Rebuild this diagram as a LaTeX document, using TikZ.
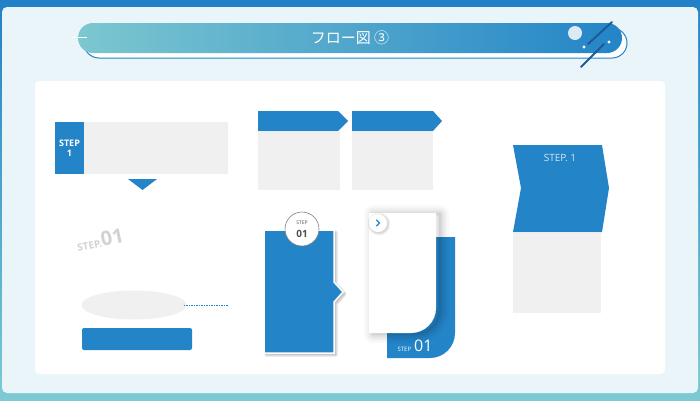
\documentclass[tikz,border=0pt]{standalone}
\usepackage{fontspec}
\setmainfont{Open Sans}
\newfontfamily\jpfont{Noto Sans CJK JP}
\usetikzlibrary{shapes.geometric}
\definecolor{stepblue}{HTML}{2384C7}
\definecolor{frametop}{HTML}{2281C6}
\definecolor{framebottom}{HTML}{7CCAD3}
\definecolor{panel}{HTML}{E9F5F8}
\definecolor{cardgray}{HTML}{F0F0F0}
\definecolor{bannerteal}{HTML}{7CC7D0}
\definecolor{decoline}{HTML}{1D5A96}
\definecolor{decocircle}{HTML}{DCEAF6}
\definecolor{markgray}{HTML}{D2D2D2}
\definecolor{badgetext}{HTML}{505050}
\newcommand\notchcard{(264,230) -- (334,230) -- (334,282) -- (343,292)
  -- (334,302) -- (334,353) -- (264,353) -- cycle}
\newcommand\papercard{(369,213) -- (436,213) -- (436,308)
  .. controls (436,321.8) and (424.8,333) .. (411,333) -- (369,333) -- cycle}

\begin{document}
\begin{tikzpicture}[x=1pt,y=-1pt,
    card/.style={fill=cardgray},
    bluebox/.style={fill=stepblue},
    haze/.style={black,opacity=#1,line join=round}]
  \useasboundingbox (0,0) rectangle (700,400);
  \shade[top color=frametop,bottom color=framebottom] (0,0) rectangle (700,400);
  \fill[panel,rounded corners=5] (2,7) rectangle (698,393);
  \fill[white,rounded corners=4] (35,81) rectangle (665,374);

  \draw[stepblue,fill=white,line width=1,rounded corners=15] (84,28) rectangle (627,58);
  \shade[left color=bannerteal,middle color=stepblue!75!bannerteal,right color=stepblue,
    rounded corners=15] (78,23) rectangle (622,53);
  \node[text=white,font=\jpfont\fontsize{15}{17}\selectfont] (title) at (350,38) {フロー図 ③};
  \draw[white,line width=1] (72,37) -- (87,37);
  \fill[decocircle] (575,33) circle (7);
  \fill[white] (584,47) circle (1.6) (609,42) circle (1.6);
  \draw[decoline,line width=2,line cap=round] (588,44) -- (612,22) (581,67) -- (604,44);

  \fill[card,rounded corners=2] (55,122) rectangle (228,174);
  \fill[bluebox] (55,122) rectangle (84,174);
  \node[text=white,font=\bfseries\fontsize{9}{9.5}\selectfont,align=center,inner sep=0] (s1) at (69.5,148) {STEP\\1};
  \fill[bluebox] (128,179) -- (157,179) -- (142.5,190) -- cycle;
  \node[rotate=12,text=markgray,font=\bfseries,inner sep=0] (mark) at (100,240)
    {\fontsize{10}{10}\selectfont STEP.\fontsize{20}{20}\selectfont 01};
  \node[ellipse,fill=cardgray,minimum width=105,minimum height=29,inner sep=0] (oval) at (134,305) {};
  \coordinate (ovalend) at (228,305);
  \draw[stepblue,line width=.9,dash pattern=on 1.6pt off .9pt] ([xshift=-3pt]oval.east) -- (ovalend);
  \fill[bluebox,rounded corners=2] (82,328) rectangle (192,350);

  \fill[bluebox] (258,111) -- (338,111) -- (348,121) -- (338,131) -- (258,131) -- cycle;
  \fill[card] (258,132) rectangle (340,190);
  \fill[bluebox] (352,111) -- (433,111) -- (442,121) -- (433,131) -- (352,131) -- cycle;
  \fill[card] (352,132) rectangle (433,190);

  \draw[haze=.12,line width=3,shift={(2,2)}] \notchcard;
  \fill[black!22,shift={(2,2)}] \notchcard;
  \fill[bluebox,draw=white,line width=1.5] \notchcard;
  \node[circle,draw=gray,fill=white,line width=.6,minimum size=34,inner sep=0,
    text=badgetext,align=center] (badge) at (302,229)
    {\fontsize{5}{5}\selectfont STEP\\[1pt]\bfseries\fontsize{10}{10}\selectfont 01};

  \fill[bluebox] (387,237) -- (455,237) -- (455,333) .. controls (455,346.8) and (443.8,358) .. (430,358)
    -- (387,358) -- cycle;
  \node[text=white,inner sep=0] (cardlabel) at (415,346)
    {\fontsize{6}{6}\selectfont STEP\hspace{3pt}\fontsize{16}{16}\selectfont 01};
  \foreach \w/\o in {18/.025,13/.03,9/.035,5/.04,2/.05}
    \draw[haze=\o,line width=\w,shift={(4,1)}] \papercard;
  \fill[white] \papercard;
  \foreach \r/\o in {11.5/.04,10.5/.05,9.8/.06}
    \fill[haze=\o] (379,224) circle (\r);
  \node[circle,fill=white,minimum size=18,inner sep=0] (arrowbtn) at (378,223) {};
  \draw[stepblue,line width=1.3,line cap=round,line join=round]
    ([shift={(-1.5,-3)}]arrowbtn.center) -- ([shift={(1.5,0)}]arrowbtn.center)
    -- ([shift={(-1.5,3)}]arrowbtn.center);

  \fill[bluebox] (513,145) -- (602,145) -- (609,188) -- (602,232) -- (513,232) -- (521,188) -- cycle;
  \node[text=white!80!stepblue,font=\fontsize{10}{10}\selectfont] (chev) at (560,158) {STEP. 1};
  \fill[card] (513,233) rectangle (601,313);
\end{tikzpicture}
\end{document}
